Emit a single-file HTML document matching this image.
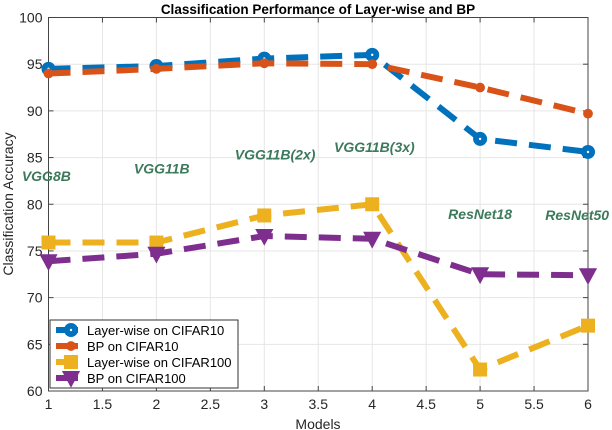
<!DOCTYPE html>
<html><head><meta charset="utf-8"><style>
body{margin:0;background:#fff;}
svg{display:block;font-family:"Liberation Sans",sans-serif;}
</style></head><body>
<svg id="chart" width="612" height="430" viewBox="0 0 612 430" xmlns="http://www.w3.org/2000/svg">
<g id="grid"></g>
<g id="axes"></g>
<g id="series"></g>
<g id="annots"></g>
<text x="318" y="14" text-anchor="middle" font-size="13.5" font-weight="bold" fill="#000">Classification Performance of Layer-wise and BP</text>
<text x="318" y="429" text-anchor="middle" font-size="14" fill="#262626">Models</text>
<text transform="translate(13,204) rotate(-90)" text-anchor="middle" font-size="14" fill="#262626">Classification Accuracy</text>
<g id="legend"></g>
</svg>
<script>
const categories=[1,2,3,4,5,6];
const xTicks=[1,1.5,2,2.5,3,3.5,4,4.5,5,5.5,6];
const yTicks=[60,65,70,75,80,85,90,95,100];
const lwC10=[94.5,94.8,95.6,96.0,87.0,85.6];
const bpC10=[94.0,94.5,95.1,95.0,92.5,89.7];
const lwC100=[75.9,75.9,78.8,80.0,62.3,67.0];
const bpC100=[73.9,74.7,76.6,76.3,72.5,72.4];
const modelNames=["VGG8B","VGG11B","VGG11B(2x)","VGG11B(3x)","ResNet18","ResNet50"];
const modelLabelY=[82.5,83.3,84.8,85.6,78.4,78.3];
const modelLabelX=[0.98,2.05,3.1,4.02,5.0,5.9];

const NS="http://www.w3.org/2000/svg";
const L=48.5,R=588,T=17.5,B=391;
const X=v=>L+(v-1)/5*(R-L);
const Y=v=>B-(v-60)/40*(B-T);
function mk(tag,attrs,parent){const e=document.createElementNS(NS,tag);for(const k in attrs)e.setAttribute(k,attrs[k]);parent.appendChild(e);return e;}
const grid=document.getElementById('grid'),axes=document.getElementById('axes'),ser=document.getElementById('series'),ann=document.getElementById('annots'),leg=document.getElementById('legend');
xTicks.forEach(t=>{
 const g=mk('line',{x1:X(t),x2:X(t),y1:T,y2:B,stroke:'#e6e6e6','stroke-width':1},grid);
 
 mk('line',{x1:X(t),x2:X(t),y1:B,y2:B-5,stroke:'#444'},axes);
 mk('line',{x1:X(t),x2:X(t),y1:T,y2:T+5,stroke:'#444'},axes);
 const tx=mk('text',{x:X(t),y:B+18,'text-anchor':'middle','font-size':14,fill:'#262626'},axes);
 tx.textContent=t;
 
});
yTicks.forEach(t=>{
 const g=mk('line',{x1:L,x2:R,y1:Y(t),y2:Y(t),stroke:'#e6e6e6','stroke-width':1},grid);
 
 mk('line',{x1:L,x2:L+5,y1:Y(t),y2:Y(t),stroke:'#444'},axes);
 mk('line',{x1:R,x2:R-5,y1:Y(t),y2:Y(t),stroke:'#444'},axes);
 const tx=mk('text',{x:L-6,y:Y(t)+5,'text-anchor':'end','font-size':14,fill:'#262626'},axes);
 tx.textContent=t;
 
});
mk('rect',{x:L,y:T,width:R-L,height:B-T,fill:'none',stroke:'#444','stroke-width':1},axes);

function marker(type,x,y,color,parent,s){
 let e;
 if(type==='circle'){e=mk('circle',{cx:x,cy:y,r:s,fill:color},parent);mk('circle',{cx:x,cy:y,r:1.2,fill:'#fff'},parent);}
 else if(type==='dot'){e=mk('circle',{cx:x,cy:y,r:s*0.7,fill:color},parent);}
 else if(type==='square'){e=mk('rect',{x:x-s,y:y-s,width:2*s,height:2*s,fill:color},parent);}
 else {e=mk('path',{d:`M${x-s*1.3},${y-s} L${x+s*1.3},${y-s} L${x},${y+s*1.4}Z`,fill:color},parent);}
 return e;
}
const seriesDefs=[
 {name:'Layer-wise on CIFAR10',data:lwC10,color:'#0072bd',m:'circle'},
 {name:'BP on CIFAR10',data:bpC10,color:'#d95319',m:'dot'},
 {name:'Layer-wise on CIFAR100',data:lwC100,color:'#edb120',m:'square'},
 {name:'BP on CIFAR100',data:bpC100,color:'#7e2f8e',m:'tri'}
];
seriesDefs.forEach((s,i)=>{
 const g=mk('g',{},ser);
 
 
 const pts=s.data.map((v,j)=>X(categories[j])+','+Y(v)).join(' ');
 const pl=mk('polyline',{points:pts,fill:'none',stroke:s.color,'stroke-width':6,'stroke-dasharray':'22,12'},g);
 
 s.data.forEach((v,j)=>{
  const m=marker(s.m,X(categories[j]),Y(v),s.color,g,7);
  
 });
});
modelNames.forEach((n,i)=>{
 const t=mk('text',{x:X(modelLabelX[i]),y:Y(modelLabelY[i]),'text-anchor':'middle','font-size':14,'font-weight':'bold','font-style':'italic',fill:'#3d7a5c'},ann);
 t.textContent=n;
 
});
mk('rect',{x:50,y:320,width:188,height:68,fill:'#fff',stroke:'#333','stroke-width':1},leg);
seriesDefs.forEach((s,i)=>{
 const y=330+i*16;
 const g=mk('g',{},leg);
 
 mk('line',{x1:56,x2:78,y1:y,y2:y,stroke:s.color,'stroke-width':6},g);
 marker(s.m,71,y,s.color,g,7);
 const t=mk('text',{x:87,y:y+5,'font-size':13,fill:'#000'},g);
 t.textContent=s.name;
});
</script>
</body></html>
